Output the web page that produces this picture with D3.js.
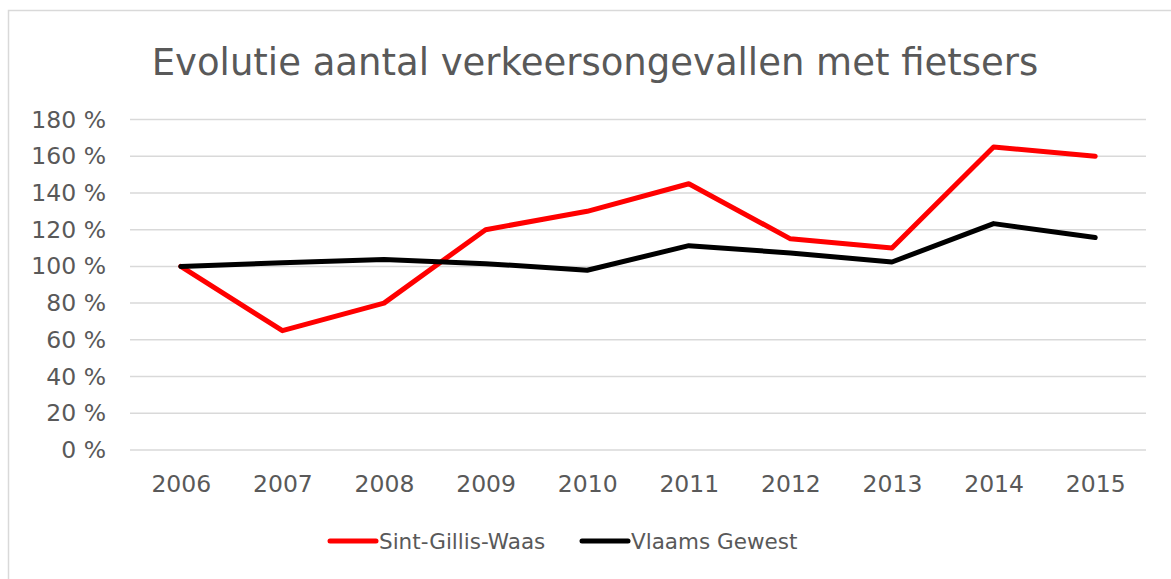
<!DOCTYPE html>
<html>
<head>
<meta charset="utf-8">
<script src="https://cdn.jsdelivr.net/npm/d3@7"></script>
<style>
  body { margin: 0; background: #fff; }
  text { font-family: "DejaVu Sans", Verdana, sans-serif; fill: #595959; }
</style>
</head>
<body>
<svg id="chart"></svg>
<script>
// index values per year (2006 = 100 %)
var years = ["2006", "2007", "2008", "2009", "2010", "2011", "2012", "2013", "2014", "2015"]
var series = [
    {name: "Sint-Gillis-Waas", color: "#ff0000",
     values: [100, 65, 80, 120, 130, 145, 115, 110, 165, 160]},
    {name: "Vlaams Gewest", color: "#000000",
     values: [100, 102, 103.7, 101.5, 97.9, 111.3, 107.3, 102.4, 123.3, 115.7]}
]

var W = 1171, H = 579
var margin = {top: 119.5, right: 25, bottom: 129, left: 130},
    width = W - margin.left - margin.right,
    height = H - margin.top - margin.bottom

var root = d3.select("#chart")
    .attr("width", W)
    .attr("height", H)

// outer chart border
root.append("rect")
    .attr("x", 8.5).attr("y", 10.5)
    .attr("width", W + 10).attr("height", H + 10)
    .attr("fill", "none")
    .attr("stroke", "#d9d9d9")
    .attr("stroke-width", 1.5)

root.append("text")
    .attr("x", 595)
    .attr("y", 75)
    .attr("text-anchor", "middle")
    .style("font-size", "37px")
    .text("Evolutie aantal verkeersongevallen met fietsers")

var svg = root.append("g")
    .attr("transform", "translate(" + margin.left + "," + margin.top + ")")

var x = d3.scalePoint()
    .domain(years)
    .range([0, width])
    .padding(0.5)

var y = d3.scaleLinear()
    .domain([0, 180])
    .range([height, 0])

// gridlines
svg.append("g")
    .selectAll("line")
    .data(y.ticks(9))
    .enter()
    .append("line")
    .attr("x1", 0)
    .attr("x2", width)
    .attr("y1", function(d){ return y(d) })
    .attr("y2", function(d){ return y(d) })
    .attr("stroke", "#d9d9d9")
    .attr("stroke-width", 1.5)

var yAxis = svg.append("g")
    .call(d3.axisLeft(y).ticks(9).tickSize(0).tickPadding(24)
        .tickFormat(function(d){ return d + " %" }))
yAxis.select(".domain").remove()
yAxis.selectAll("text")
    .style("font-size", "23.5px")
    .attr("x", -24)

var xAxis = svg.append("g")
    .attr("transform", "translate(0," + height + ")")
    .call(d3.axisBottom(x).tickSize(0).tickPadding(25))
xAxis.select(".domain").remove()
xAxis.selectAll("text")
    .style("font-size", "23.5px")

var line = d3.line()
    .x(function(d, i){ return x(years[i]) })
    .y(function(d){ return y(d) })

svg.selectAll(".series")
    .data(series)
    .enter()
    .append("path")
    .attr("class", "series")
    .attr("d", function(d){ return line(d.values) })
    .attr("fill", "none")
    .attr("stroke", function(d){ return d.color })
    .attr("stroke-width", 5)
    .attr("stroke-linejoin", "round")
    .attr("stroke-linecap", "round")

// legend
var legendX = [330, 582]
var legend = root.append("g")
    .selectAll("g")
    .data(series)
    .enter()
    .append("g")
    .attr("transform", function(d, i){ return "translate(" + legendX[i] + ",541)" })

legend.append("line")
    .attr("x1", 0).attr("x2", 46)
    .attr("stroke", function(d){ return d.color })
    .attr("stroke-width", 5)
    .attr("stroke-linecap", "round")

legend.append("text")
    .attr("x", 49)
    .attr("dy", "0.35em")
    .style("font-size", "21.5px")
    .text(function(d){ return d.name })
</script>
</body>
</html>
